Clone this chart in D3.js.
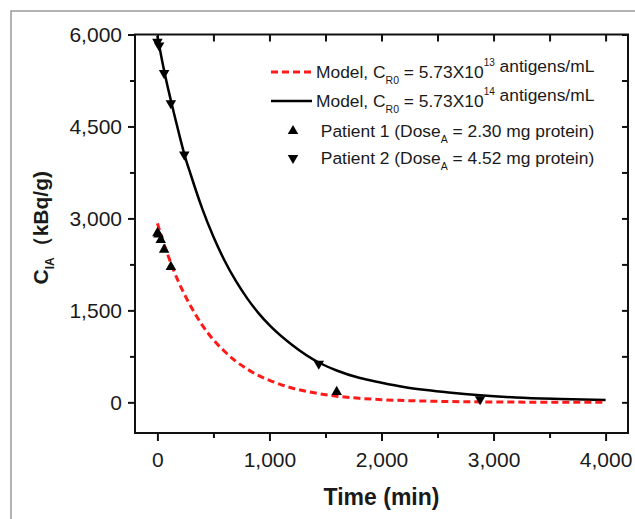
<!DOCTYPE html>
<html>
<head>
<meta charset="utf-8">
<script src="https://cdn.jsdelivr.net/npm/d3@7"></script>
<style>
  body { margin: 0; background: #fff; }
  svg { display: block; }
  text { font-family: Arial, "Liberation Sans", sans-serif; fill: #1a1a1a; }
</style>
</head>
<body>
<svg id="chart" width="635" height="519"></svg>
<script>
  /*
   * Data
   */

  // Axis ticks
  var X_TICKS = [0, 1000, 2000, 3000, 4000];
  var X_MINOR = [500, 1500, 2500, 3500];
  var Y_TICKS = [0, 1500, 3000, 4500, 6000];
  var Y_MINOR = [750, 2250, 3750, 5250];

  // Model curve, C_R0 = 5.73X10^13 (red dashed)
  var M13_TIME = [0, 50, 100, 150, 200, 300, 400, 500, 600, 700, 800, 900, 1000,
                  1200, 1400, 1600, 1800, 2000, 2400, 2800, 3200, 3600, 4000];
  var M13_CONC = [2920, 2630, 2370, 2130, 1920, 1560, 1260, 1020, 830, 670, 545, 440, 360,
                  235, 155, 100, 66, 44, 20, 9, 4, 2, 1];

  // Model curve, C_R0 = 5.73X10^14 (black solid)
  var M14_TIME = [0, 50, 100, 150, 200, 240, 300, 400, 500, 600, 700, 800, 900, 1000,
                  1200, 1440, 1600, 1800, 2000, 2200, 2400, 2600, 2880, 3200, 3600, 4000];
  var M14_CONC = [5980, 5500, 5080, 4700, 4330, 4050, 3700, 3160, 2700, 2310, 1980, 1700, 1460, 1260,
                  940, 650, 520, 400, 320, 250, 200, 160, 115, 80, 55, 37];

  // Patients
  var P1_TIME = [0, 10, 30, 60, 120, 1600];
  var P1_CONC = [2760, 2740, 2650, 2490, 2210, 170];
  var P2_TIME = [0, 15, 60, 120, 240, 1440, 2880];
  var P2_CONC = [5880, 5820, 5370, 4880, 4040, 630, 50];

  /*
   * Layout
   */
  var LEFT = 135, RIGHT = 628, TOP = 34.5, BOTTOM = 433;
  var TICK_FONT = 21;

  var svg = d3.select("#chart");

  // grey frame around the figure
  svg.append("rect")
    .attr("x", 11).attr("y", 11)
    .attr("width", 650).attr("height", 530)
    .attr("fill", "none")
    .attr("stroke", "#9a9a9a")
    .attr("stroke-width", 1.5);

  var x = d3.scaleLinear().domain([-200, 4200]).range([LEFT, RIGHT]);
  var y = d3.scaleLinear().domain([-500, 6000]).range([BOTTOM, TOP]);

  function zip(xs, ys) {
    return xs.map(function (d, i) { return [d, ys[i]]; });
  }

  var fmt = d3.format(",");

  // Axes: major + minor ticks, mirrored on top/right pointing the same way
  function put_axis(axis, transform, cls) {
    var g = svg.append("g")
      .attr("class", cls)
      .attr("transform", transform)
      .call(axis);
    g.select(".domain").remove();
    g.selectAll("line").attr("stroke", "#111").attr("stroke-width", 2);
    g.selectAll("text")
      .style("font-size", TICK_FONT + "px")
      .attr("fill", "#1a1a1a");
    return g;
  }

  // bottom
  put_axis(d3.axisBottom(x).tickValues(X_TICKS).tickFormat(fmt).tickSize(8).tickPadding(11),
           "translate(0," + BOTTOM + ")", "xaxis");
  put_axis(d3.axisBottom(x).tickValues(X_MINOR).tickFormat("").tickSize(5),
           "translate(0," + BOTTOM + ")", "xminor");
  // top (inward)
  put_axis(d3.axisBottom(x).tickValues(X_TICKS.concat(X_MINOR)).tickFormat("").tickSize(7),
           "translate(0," + TOP + ")", "xtop");
  // left
  put_axis(d3.axisLeft(y).tickValues(Y_TICKS).tickFormat(fmt).tickSize(7).tickPadding(6),
           "translate(" + LEFT + ",0)", "yaxis");
  put_axis(d3.axisLeft(y).tickValues(Y_MINOR).tickFormat("").tickSize(5),
           "translate(" + LEFT + ",0)", "yminor");
  // right (inward)
  put_axis(d3.axisLeft(y).tickValues(Y_TICKS.concat(Y_MINOR)).tickFormat("").tickSize(6),
           "translate(" + RIGHT + ",0)", "yright");

  // plot box
  svg.append("rect")
    .attr("x", LEFT).attr("y", TOP)
    .attr("width", RIGHT - LEFT).attr("height", BOTTOM - TOP)
    .attr("fill", "none")
    .attr("stroke", "#111")
    .attr("stroke-width", 2);

  // curves
  var line = d3.line()
    .x(function (d) { return x(d[0]); })
    .y(function (d) { return y(d[1]); })
    .curve(d3.curveMonotoneX);

  svg.append("path")
    .datum(zip(M14_TIME, M14_CONC))
    .attr("d", line)
    .attr("fill", "none")
    .attr("stroke", "#000")
    .attr("stroke-width", 2.5);

  svg.append("path")
    .datum(zip(M13_TIME, M13_CONC))
    .attr("d", line)
    .attr("fill", "none")
    .attr("stroke", "#ff1a1a")
    .attr("stroke-width", 3)
    .attr("stroke-dasharray", "7,4");

  // markers
  var tri = d3.symbol().type(d3.symbolTriangle).size(48);

  svg.selectAll(".p1")
      .data(zip(P1_TIME, P1_CONC))
    .enter().append("path")
      .attr("class", "p1")
      .attr("d", tri)
      .attr("transform", function (d) { return "translate(" + x(d[0]) + "," + y(d[1]) + ")"; })
      .attr("fill", "#000");

  svg.selectAll(".p2")
      .data(zip(P2_TIME, P2_CONC))
    .enter().append("path")
      .attr("class", "p2")
      .attr("d", tri)
      .attr("transform", function (d) { return "translate(" + x(d[0]) + "," + y(d[1]) + ") rotate(180)"; })
      .attr("fill", "#000");

  /*
   * Legend
   */
  var LEG_X = 316, LEG_Y = [72, 101, 131, 158], LEG_FONT = 17.4;

  function rich(row, parts) {
    var t = svg.append("text")
      .attr("x", LEG_X)
      .attr("y", LEG_Y[row] + 6)
      .style("font-size", LEG_FONT + "px");
    parts.forEach(function (p) {
      var s = t.append("tspan").text(p[0]);
      if (p[1] === "sub") {
        s.style("font-size", "10.5px").attr("dy", 6);
      } else if (p[1] === "sup") {
        s.style("font-size", "10px").attr("dy", -12);
      } else if (p[1] === "back") {
        s.attr("dy", p[2]);
      }
    });
    return t;
  }

  svg.append("line")
    .attr("x1", 271).attr("x2", 312)
    .attr("y1", LEG_Y[0]).attr("y2", LEG_Y[0])
    .attr("stroke", "#ff1a1a").attr("stroke-width", 3)
    .attr("stroke-dasharray", "7,4");
  rich(0, [["Model, C"], ["R0", "sub"], [" = 5.73X10", "back", -6], ["13", "sup"],
           [" antigens/mL", "back", 6]]);

  svg.append("line")
    .attr("x1", 271).attr("x2", 312)
    .attr("y1", LEG_Y[1]).attr("y2", LEG_Y[1])
    .attr("stroke", "#000").attr("stroke-width", 2.5);
  rich(1, [["Model, C"], ["R0", "sub"], [" = 5.73X10", "back", -6], ["14", "sup"],
           [" antigens/mL", "back", 6]]);

  svg.append("path")
    .attr("d", tri)
    .attr("transform", "translate(293," + LEG_Y[2] + ")")
    .attr("fill", "#000");
  rich(2, [["\u00a0Patient 1 (Dose"], ["A", "sub"], [" = 2.30 mg protein)", "back", -6]]);

  svg.append("path")
    .attr("d", tri)
    .attr("transform", "translate(293," + LEG_Y[3] + ") rotate(180)")
    .attr("fill", "#000");
  rich(3, [["\u00a0Patient 2 (Dose"], ["A", "sub"], [" = 4.52 mg protein)", "back", -6]]);

  /*
   * Axis titles
   */
  svg.append("text")
    .attr("x", (LEFT + RIGHT) / 2)
    .attr("y", 505)
    .attr("text-anchor", "middle")
    .style("font-size", "23px")
    .style("font-weight", "bold")
    .text("Time (min)");

  var yt = svg.append("text")
    .attr("transform", "translate(48," + ((TOP + BOTTOM) / 2 - 6) + ") rotate(-90)")
    .attr("text-anchor", "middle")
    .style("font-size", "21px")
    .style("font-weight", "bold");
  yt.append("tspan").text("C");
  yt.append("tspan").text("IA").style("font-size", "12px").attr("dy", 6);
  yt.append("tspan").text("\uff08kBq/g)").attr("dy", -6);
</script>
</body>
</html>
